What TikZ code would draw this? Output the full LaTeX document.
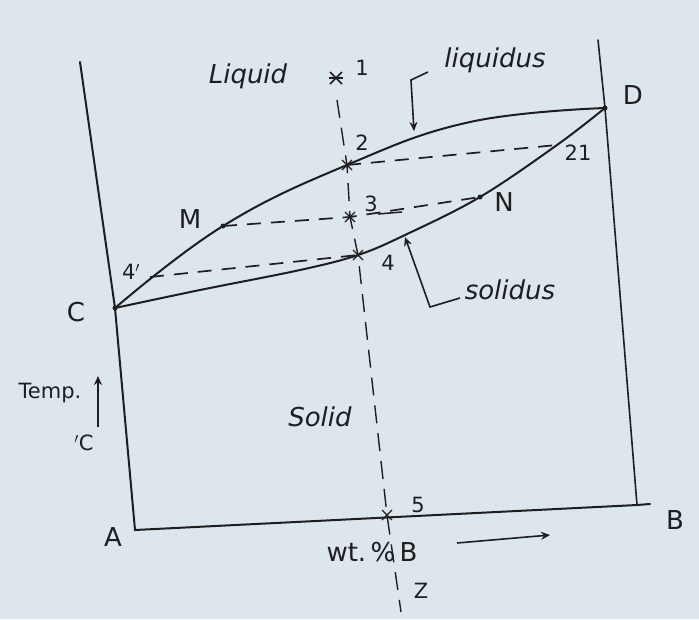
\documentclass[tikz,border=0pt]{standalone}
\usepackage{fontspec}
\setmainfont{DejaVu Sans}
\usetikzlibrary{arrows.meta}
\definecolor{paper}{RGB}{221,230,236}
\definecolor{ink}{RGB}{30,30,32}
\tikzset{
  curve/.style={draw=ink, line width=2pt, line cap=round},
  axis/.style={draw=ink, line width=2pt, line cap=round},
  tie/.style={draw=ink, line width=1.7pt, dash pattern=on 14pt off 10pt},
  vline/.style={draw=ink, line width=1.4pt, dash pattern=on 18pt off 10pt},
  lbl/.style={text=ink, font=\fontsize{26}{30}\selectfont, inner sep=0pt},
  word/.style={text=ink, font=\fontsize{26}{30}\selectfont\itshape, inner sep=0pt},
  small/.style={text=ink, font=\fontsize{21}{24}\selectfont, inner sep=0pt},
  ptr/.style={draw=ink, line width=1.6pt, -{Stealth[length=9pt,width=8pt]}},
  xmark/.style={draw=ink, line width=1.3pt},
  dotm/.style={fill=ink, circle, inner sep=0pt, minimum size=5pt}
}
\begin{document}
\begin{tikzpicture}[x=1pt,y=-1pt]
\useasboundingbox (0,0) rectangle (699,619);
\fill[paper] (0,0) rectangle (699,619);

% frame coordinates
\coordinate (Ltop) at (80,62);
\coordinate (C) at (115,308);
\coordinate (Acorner) at (135,530);
\coordinate (Rtop) at (598,40);
\coordinate (D) at (605,108);
\coordinate (Rbot) at (637,505);
\coordinate (Bend) at (650,504);

% axes / frame
\draw[axis] (Ltop) -- (C) -- (Acorner) -- (Rbot) -- (Bend);
\draw[axis, line width=1.6pt] (Rtop) -- (D) -- (Rbot);

% key points
\coordinate (P1) at (336,78);
\coordinate (Vtop) at (337,100);
\coordinate (P2) at (347,165);
\coordinate (P3) at (350,217);
\coordinate (P4) at (358,255);
\coordinate (P5) at (387,515);
\coordinate (Vbot) at (401,612);
\coordinate (M) at (223,226);
\coordinate (N) at (480,197);
\coordinate (P4p) at (150,277);
\coordinate (P21) at (557,145);

% liquidus
\draw[curve] plot[smooth, tension=0.7] coordinates
  {(115,308) (223,226) (347,165) (470,122) (605,108)};
% solidus
\draw[curve] plot[smooth, tension=0.6] coordinates
  {(115,308) (200,290) (300,270) (358,255) (405,235) (480,197) (557,145) (605,108)};

% tie lines
\draw[tie] (P2) -- (P21);
\draw[tie] (M) -- (P3) -- (N);
\draw[tie] (P4p) -- (P4);

% vertical composition line
\draw[vline] (Vtop) -- (P2) -- (P3) -- (P4) -- (P5) -- (Vbot);

% marks
\foreach \p in {P2,P3,P4,P5} {
  \draw[xmark] ([shift={(-5,-5)}]\p) -- ([shift={(5,5)}]\p);
  \draw[xmark] ([shift={(-5,5)}]\p) -- ([shift={(5,-5)}]\p);
}
\draw[xmark, line width=1.5pt] ([shift={(-6,-6)}]P1) -- ([shift={(6,6)}]P1);
\draw[xmark, line width=1.5pt] ([shift={(-6,6)}]P1) -- ([shift={(6,-6)}]P1);
\draw[xmark, line width=1.5pt] ([shift={(-7,0)}]P1) -- ([shift={(7,0)}]P1);
\node[dotm] (Cdot) at (C) {};
\node[dotm] (Ddot) at (D) {};
\node[dotm] (Mdot) at (M) {};
\node[dotm] (Ndot) at (N) {};

% labels
\node[word] (tliquid) at (248,76) {Liquid};
\node[small] (t1) at (362,68) {1};
\node[word] (tliquidus) at (495,60) {liquidus};
\node[small] (t2) at (362,143) {2};
\node[small] (t3) at (371,204) {3};
\node[small] (t4) at (388,263) {4};
\node[small] (t4p) at (131,272) {4$'$};
\node[small] (t21) at (578,153) {21};
\node[small] (t5) at (418,505) {5};
\node[lbl] (tM) at (190,219) {M};
\node[lbl] (tN) at (504,202) {N};
\node[lbl] (tC) at (76,312) {C};
\node[lbl] (tD) at (633,95) {D};
\node[lbl] (tA) at (113,537) {A};
\node[lbl] (tB) at (675,520) {B};
\node[word] (tsolidus) at (510,290) {solidus};
\node[word] (tsolid) at (320,417) {Solid};
\node[small] (ttemp) at (50,393) {Temp.};
\node[small] (tdegC) at (84,443) {$'$C};
\node[lbl] (twt) at (372,552) {wt.\,\%\,B};
\node[small] (tZ) at (421,591) {Z};

% under-dash after 3
\draw[ink, line width=1.5pt] (378,214) -- (402,212);

% pointers
\coordinate (liqA) at (428,72);
\coordinate (liqB) at (411,80);
\coordinate (liqTip) at (414,131);
\draw[ptr] (liqA) -- (liqB) -- (liqTip);
\coordinate (solA) at (460,298);
\coordinate (solB) at (430,307);
\coordinate (solTip) at (405,237);
\draw[ptr] (solA) -- (solB) -- (solTip);
\coordinate (tempA) at (98,427);
\coordinate (tempB) at (98,376);
\draw[ptr] (tempA) -- (tempB);
\coordinate (wtA) at (457,543);
\coordinate (wtB) at (550,535);
\draw[ptr] (wtA) -- (wtB);
\end{tikzpicture}
\end{document}
